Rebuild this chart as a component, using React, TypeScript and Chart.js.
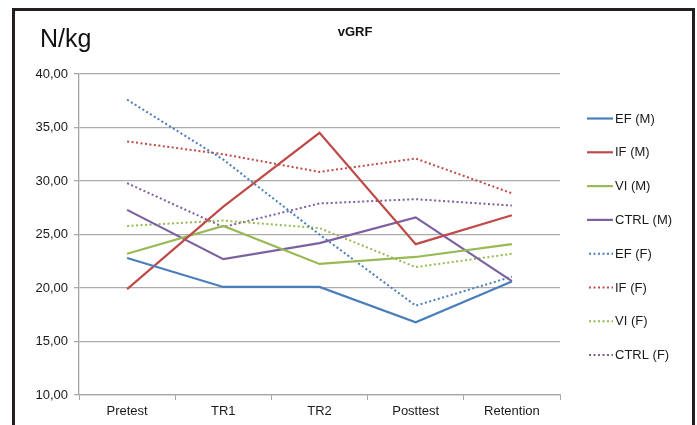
import React, { useEffect, useRef } from 'react';
import { Chart, registerables } from 'chart.js';

Chart.register(...registerables);

const categories = ['Pretest', 'TR1', 'TR2', 'Posttest', 'Retention'];
const efM = [22.8, 20.1, 20.1, 16.8, 20.6];
const ifM = [19.9, 27.6, 34.5, 24.1, 26.8];
const viM = [23.2, 25.8, 22.25, 22.9, 24.1];
const ctrlM = [27.3, 22.7, 24.2, 26.6, 20.65];
const efF = [37.6, 32.0, 25.0, 18.35, 21.05];
const ifF = [33.7, 32.5, 30.85, 32.1, 28.85];
const viF = [25.8, 26.3, 25.6, 21.95, 23.2];
const ctrlF = [29.8, 25.7, 27.9, 28.3, 27.7];

const seriesLabels = ['EF (M)', 'IF (M)', 'VI (M)', 'CTRL (M)', 'EF (F)', 'IF (F)', 'VI (F)', 'CTRL (F)'];
const yMin = 10;
const yMax = 40;
const yStep = 5;

const BLUE = '#4A7EBB';
const RED = '#BE4B48';
const GREEN = '#98B954';
const PURPLE = '#7D60A0';
const FONT = "'Liberation Sans', Arial, sans-serif";

const overlayPlugin = {
  id: 'overlay',
  afterDraw(chart: any) {
    const ctx = chart.ctx;
    ctx.save();
    // Unit label
    ctx.fillStyle = '#111';
    ctx.font = `25px ${FONT}`;
    ctx.textAlign = 'left';
    ctx.textBaseline = 'alphabetic';
    ctx.fillText('N/kg', 40, 47);
    // Title
    ctx.font = `bold 13px ${FONT}`;
    ctx.textAlign = 'center';
    ctx.fillText('vGRF', 355, 36);
    // Legend
    const ds = chart.data.datasets;
    ds.forEach((d: any, i: number) => {
      const y = 118.5 + i * 33.8;
      ctx.beginPath();
      ctx.strokeStyle = d.borderColor;
      ctx.lineWidth = d.borderWidth;
      ctx.setLineDash(d.borderDash || []);
      ctx.moveTo(d.borderDash && d.borderDash.length ? 589 : 587, y);
      ctx.lineTo(613, y);
      ctx.stroke();
      ctx.setLineDash([]);
      ctx.fillStyle = '#1a1a1a';
      ctx.font = `13px ${FONT}`;
      ctx.textAlign = 'left';
      ctx.textBaseline = 'middle';
      ctx.fillText(d.label, 615, y + 0.5);
    });
    ctx.restore();
  },
};

export default function App() {
  const ref = useRef<HTMLCanvasElement | null>(null);

  useEffect(() => {
    if (!ref.current) return;
    const seriesData = [efM, ifM, viM, ctrlM, efF, ifF, viF, ctrlF];
    const colors = [BLUE, RED, GREEN, PURPLE, BLUE, RED, GREEN, PURPLE];
    const datasets = seriesData.map((data, i) => ({
      label: seriesLabels[i],
      data,
      borderColor: colors[i],
      backgroundColor: colors[i],
      borderWidth: i < 4 ? 2.2 : 2,
      borderDash: i < 4 ? [] : [2, 2.5],
      pointRadius: 0,
      pointHoverRadius: 0,
      tension: 0,
      fill: false,
    }));

    const chart = new Chart(ref.current, {
      type: 'line',
      data: { labels: categories, datasets },
      options: {
        animation: false,
        responsive: false,
        devicePixelRatio: 1,
        layout: { padding: { left: 0, top: 74, right: 137, bottom: 0 } },
        plugins: {
          legend: { display: false },
          title: { display: false },
          tooltip: { enabled: false },
        },
        scales: {
          x: {
            offset: true,
            grid: {
              display: true,
              drawOnChartArea: false,
              drawTicks: true,
              tickLength: 5,
              color: '#a6a6a6',
              lineWidth: 1,
              offset: true,
            },
            border: { display: true, color: '#a6a6a6', width: 1.3 },
            ticks: {
              color: '#1a1a1a',
              font: { family: FONT, size: 13 },
              padding: 4,
              maxRotation: 0,
            },
            afterFit(scale: any) {
              scale.height = 30;
            },
          },
          y: {
            min: yMin,
            max: yMax,
            grid: {
              color: '#ababab',
              lineWidth: 1.3,
              drawTicks: true,
              tickLength: 5,
            },
            border: { display: true, color: '#a6a6a6', width: 1.3 },
            ticks: {
              stepSize: yStep,
              color: '#1a1a1a',
              font: { family: FONT, size: 13 },
              padding: 6,
              callback: (v: any) => Number(v).toFixed(2).replace('.', ','),
            },
            afterFit(scale: any) {
              scale.width = 79;
            },
          },
        },
      },
      plugins: [overlayPlugin],
    });
    return () => chart.destroy();
  }, []);

  return (
    <div style={{ position: 'fixed', left: 0, top: 0, width: 697, height: 425, overflow: 'hidden', background: '#fff' }}>
      <canvas ref={ref} width={697} height={425} style={{ position: 'absolute', left: 0, top: 0, width: 697, height: 425 }} />
      <div
        style={{
          position: 'absolute',
          left: 12,
          top: 8,
          width: 683,
          height: 500,
          boxSizing: 'border-box',
          border: '3px solid #231f20',
          pointerEvents: 'none',
        }}
      />
    </div>
  );
}
